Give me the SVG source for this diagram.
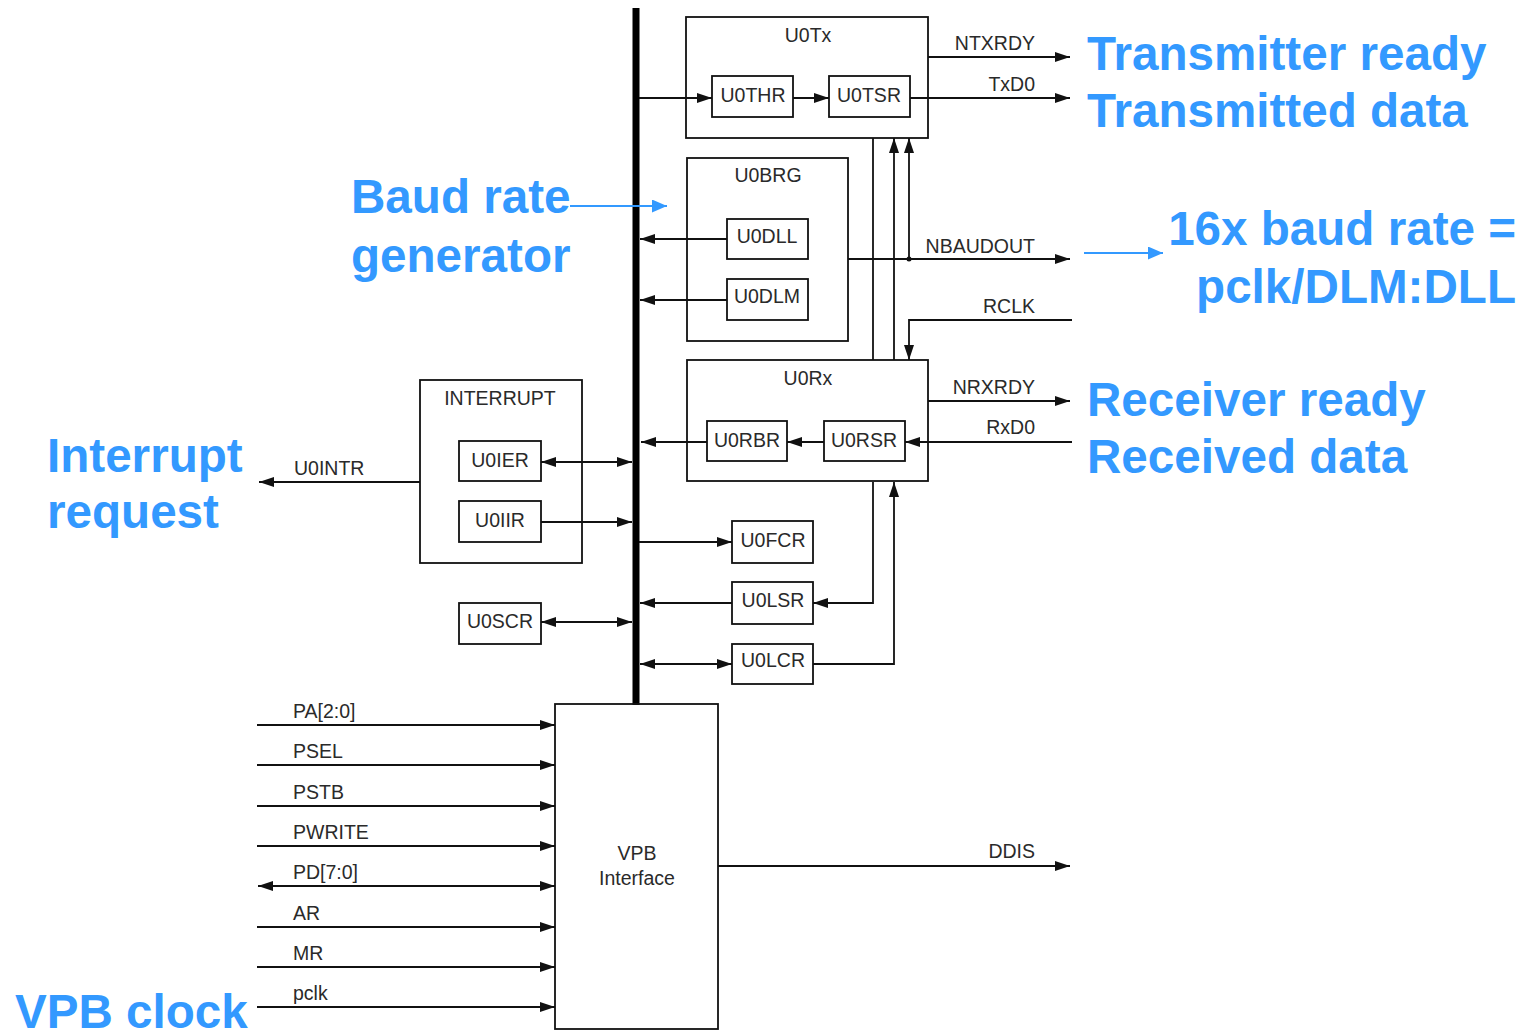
<svg xmlns="http://www.w3.org/2000/svg" width="1527" height="1032" viewBox="0 0 1527 1032">
<style>
.box{fill:none;stroke:#111;stroke-width:1.8}
.ln{fill:none;stroke:#111;stroke-width:1.8}
.t{font-family:"Liberation Sans",Arial,sans-serif;font-size:19.5px;fill:#2a2a2a}
.c{text-anchor:middle}
.e{text-anchor:end}
.b{font-family:"Liberation Sans",Arial,sans-serif;font-size:47.6px;font-weight:bold;fill:#3399ff}
.bl{fill:none;stroke:#3399ff;stroke-width:2}
.ae{marker-end:url(#ah)}
.as{marker-start:url(#ah)}
</style>
<defs>
<marker id="ah" viewBox="0 0 15 10" markerWidth="15" markerHeight="10" refX="15" refY="5" markerUnits="userSpaceOnUse" orient="auto-start-reverse">
<path d="M0,0 L15,5 L0,10 z" fill="#111"/>
</marker>
<marker id="bh" viewBox="0 0 15 13" markerWidth="15" markerHeight="13" refX="15" refY="6.5" markerUnits="userSpaceOnUse" orient="auto">
<path d="M0,0 L15,6.5 L0,13 z" fill="#3399ff"/>
</marker>
</defs>
<rect width="1527" height="1032" fill="#fff"/>

<g id="bus"><rect x="632.5" y="8" width="7" height="697" fill="#000"/></g>

<g id="U0Tx">
<rect class="box" x="686" y="17" width="242" height="121"/>
<text class="t c" x="808" y="42">U0Tx</text>
</g>
<g id="U0THR"><rect class="box" x="712" y="76" width="81" height="41"/><text class="t c" x="753" y="102">U0THR</text></g>
<g id="U0TSR"><rect class="box" x="829" y="76" width="81" height="41"/><text class="t c" x="869" y="102">U0TSR</text></g>

<g id="U0BRG">
<rect class="box" x="687" y="158" width="161" height="183"/>
<text class="t c" x="768" y="182">U0BRG</text>
</g>
<g id="U0DLL"><rect class="box" x="727" y="219" width="81" height="40"/><text class="t c" x="767" y="243">U0DLL</text></g>
<g id="U0DLM"><rect class="box" x="727" y="279" width="81" height="41"/><text class="t c" x="767" y="303">U0DLM</text></g>

<g id="U0Rx">
<rect class="box" x="687" y="360" width="241" height="121"/>
<text class="t c" x="808" y="385">U0Rx</text>
</g>
<g id="U0RBR"><rect class="box" x="707" y="421" width="80" height="40"/><text class="t c" x="747" y="447">U0RBR</text></g>
<g id="U0RSR"><rect class="box" x="824" y="421" width="81" height="40"/><text class="t c" x="864" y="447">U0RSR</text></g>

<g id="INTERRUPT">
<rect class="box" x="420" y="380" width="162" height="183"/>
<text class="t c" x="500" y="405">INTERRUPT</text>
</g>
<g id="U0IER"><rect class="box" x="459" y="441" width="82" height="40"/><text class="t c" x="500" y="467">U0IER</text></g>
<g id="U0IIR"><rect class="box" x="459" y="501" width="82" height="41"/><text class="t c" x="500" y="527">U0IIR</text></g>
<g id="U0SCR"><rect class="box" x="459" y="603" width="82" height="41"/><text class="t c" x="500" y="628">U0SCR</text></g>

<g id="U0FCR"><rect class="box" x="732" y="521" width="81" height="42"/><text class="t c" x="773" y="547">U0FCR</text></g>
<g id="U0LSR"><rect class="box" x="732" y="582" width="81" height="42"/><text class="t c" x="773" y="607">U0LSR</text></g>
<g id="U0LCR"><rect class="box" x="732" y="644" width="81" height="40"/><text class="t c" x="773" y="667">U0LCR</text></g>

<g id="VPB">
<rect class="box" x="555" y="704" width="163" height="325"/>
<text class="t c" x="637" y="860">VPB</text>
<text class="t c" x="637" y="885">Interface</text>
</g>

<g id="connectors">
<path class="ln ae" d="M639,98 H712"/>
<path class="ln ae" d="M793,98 H829"/>
<path class="ln ae" d="M910,98 H1070"/>
<path class="ln ae" d="M928,57 H1070"/>
<path class="ln" d="M873,138 V360"/>
<path class="ln ae" d="M894,360 V138"/>
<path class="ln ae" d="M909,259 V138"/>
<circle cx="909" cy="259" r="2.5" fill="#111"/>
<path class="ln ae" d="M848,259 H1070"/>
<path class="ln ae" d="M1072,320 H909 V360"/>
<path class="ln ae" d="M727,239 H640"/>
<path class="ln ae" d="M727,300 H640"/>
<path class="ln ae" d="M928,401 H1070"/>
<path class="ln ae" d="M1072,442 H905"/>
<path class="ln ae" d="M824,442 H787"/>
<path class="ln ae" d="M707,442 H641"/>
<path class="ln ae as" d="M541,462 H632"/>
<path class="ln ae" d="M541,522 H632"/>
<path class="ln ae" d="M420,482 H259"/>
<path class="ln ae as" d="M541,622 H632"/>
<path class="ln ae" d="M639,542 H732"/>
<path class="ln ae" d="M732,603 H640"/>
<path class="ln ae" d="M873,482 V603 H813"/>
<path class="ln ae as" d="M640,664 H732"/>
<path class="ln ae" d="M813,664 H894 V482"/>
<path class="ln ae" d="M257,725 H555"/>
<path class="ln ae" d="M257,765 H555"/>
<path class="ln ae" d="M257,806 H555"/>
<path class="ln ae" d="M257,846 H555"/>
<path class="ln ae as" d="M258,886 H555"/>
<path class="ln ae" d="M257,927 H555"/>
<path class="ln ae" d="M257,967 H555"/>
<path class="ln ae" d="M257,1007 H555"/>
<path class="ln ae" d="M718,866 H1070"/>
<path class="bl" d="M570,206 H667" marker-end="url(#bh)"/>
<path class="bl" d="M1084,253 H1163" marker-end="url(#bh)"/>
</g>

<g id="signal-labels">
<text class="t e" x="1035" y="50">NTXRDY</text>
<text class="t e" x="1035" y="91">TxD0</text>
<text class="t e" x="1035" y="253">NBAUDOUT</text>
<text class="t e" x="1035" y="313">RCLK</text>
<text class="t e" x="1035" y="394">NRXRDY</text>
<text class="t e" x="1035" y="434">RxD0</text>
<text class="t e" x="1035" y="858">DDIS</text>
<text class="t" x="294" y="475">U0INTR</text>
<text class="t" x="293" y="718">PA[2:0]</text>
<text class="t" x="293" y="758">PSEL</text>
<text class="t" x="293" y="799">PSTB</text>
<text class="t" x="293" y="839">PWRITE</text>
<text class="t" x="293" y="879">PD[7:0]</text>
<text class="t" x="293" y="920">AR</text>
<text class="t" x="293" y="960">MR</text>
<text class="t" x="293" y="1000">pclk</text>
</g>

<g id="annotations">
<text class="b" x="1087" y="70">Transmitter ready</text>
<text class="b" x="1087" y="127">Transmitted data</text>
<text class="b" x="1516" y="245" text-anchor="end">16x baud rate =</text>
<text class="b" x="1516" y="303" text-anchor="end">pclk/DLM:DLL</text>
<text class="b" x="1087" y="416">Receiver ready</text>
<text class="b" x="1087" y="473">Received data</text>
<text class="b" x="351" y="213">Baud rate</text>
<text class="b" x="351" y="272">generator</text>
<text class="b" x="47" y="472">Interrupt</text>
<text class="b" x="47" y="528">request</text>
<text class="b" x="15" y="1028">VPB clock</text>
</g>
</svg>
